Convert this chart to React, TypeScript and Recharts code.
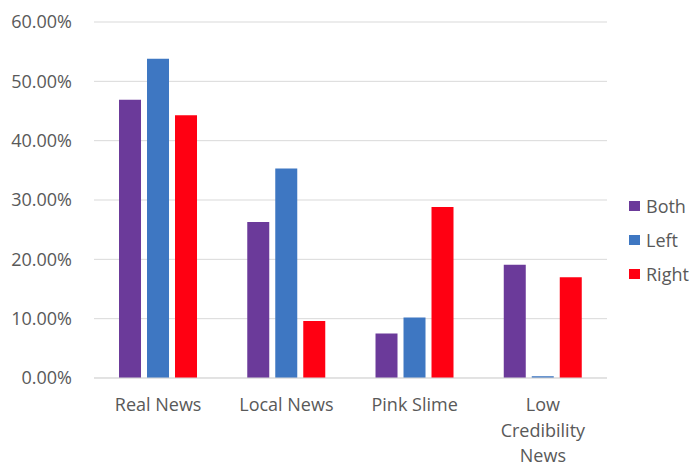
import React from "react";
import {
  BarChart,
  Bar,
  XAxis,
  YAxis,
  CartesianGrid,
  Legend,
} from "recharts";

// categories and shares (in %)
const categories = ["Real News", "Local News", "Pink Slime", "Low Credibility News"];
const both = [46.9, 26.3, 7.5, 19.1];
const left = [53.8, 35.3, 10.2, 0.3];
const right = [44.3, 9.6, 28.8, 17.0];
const yTicks = [0, 10, 20, 30, 40, 50, 60];

const data = categories.map((name, i) => ({
  name,
  Both: both[i],
  Left: left[i],
  Right: right[i],
}));

const FONT = "'Open Sans', sans-serif";
const TEXT = "#595959";

const CategoryTick = (props: any) => {
  const { x, y, payload } = props;
  const label: string = payload.value;
  const lines = label.length > 12 ? label.split(" ") : [label];
  return (
    <text x={x} y={y} textAnchor="middle" fill={TEXT} fontSize={18} fontFamily={FONT}>
      {lines.map((l, i) => (
        <tspan key={i} x={x} dy={i === 0 ? 33 : 25.5}>
          {l}
        </tspan>
      ))}
    </text>
  );
};

const LegendBox = (props: any) => {
  const items = props.payload || [];
  return (
    <div style={{ paddingLeft: 22, paddingTop: 12, width: 63, fontFamily: FONT }}>
      {items.map((it: any) => (
        <div
          key={it.value}
          style={{ height: 34, display: "flex", alignItems: "center", color: TEXT, fontSize: 18 }}
        >
          <span
            style={{ width: 11, height: 10, background: it.color, marginRight: 6, display: "inline-block" }}
          />
          {it.value}
        </div>
      ))}
    </div>
  );
};

const App: React.FC = () => {
  return (
    <div style={{ position: "absolute", left: 0, top: 0, width: 692, height: 468, background: "#fff" }}>
      <BarChart
        width={692}
        height={468}
        data={data}
        margin={{ top: 22, right: 0, bottom: 0, left: 0 }}
        barGap={6}
        barCategoryGap="19.5%"
      >
        <CartesianGrid vertical={false} stroke="#d9d9d9" strokeWidth={1} />
        <XAxis
          dataKey="name"
          height={90}
          tickLine={false}
          axisLine={{ stroke: "#d9d9d9" }}
          tickSize={0}
          tickMargin={0}
          interval={0}
          tick={<CategoryTick />}
        />
        <YAxis
          width={94}
          domain={[0, 60]}
          ticks={yTicks}
          axisLine={false}
          tickLine={false}
          tickSize={0}
          tickMargin={22}
          tickFormatter={(v: number) => `${v.toFixed(2)}%`}
          tick={{ fill: TEXT, fontSize: 18, fontFamily: FONT }}
        />
        <Legend
          layout="vertical"
          align="right"
          verticalAlign="middle"
          content={<LegendBox />}
        />
        <Bar dataKey="Both" fill="#6B3A9A" isAnimationActive={false} />
        <Bar dataKey="Left" fill="#3E77C2" isAnimationActive={false} />
        <Bar dataKey="Right" fill="#FF0012" isAnimationActive={false} />
      </BarChart>
    </div>
  );
};

export default App;
